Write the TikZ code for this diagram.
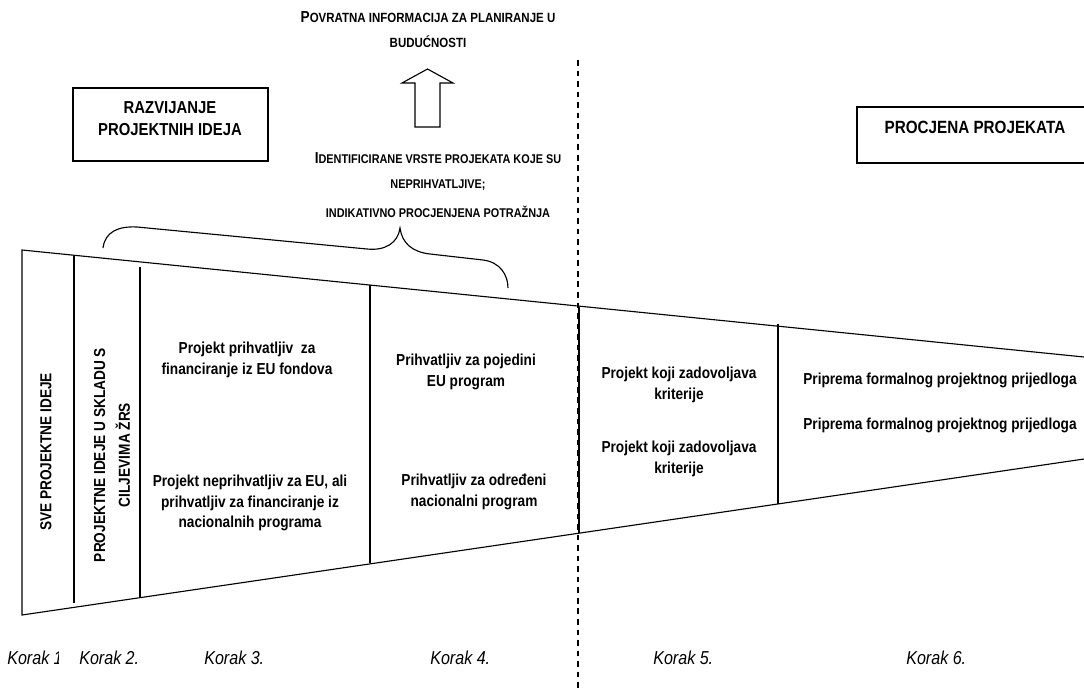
\documentclass[tikz,border=0pt]{standalone}
\usepackage{fontspec}
\setmainfont[FakeStretch=0.86]{Liberation Sans}
\newcommand{\velikoslovo}[1]{{\fontsize{11.3}{17.7}\selectfont #1}}

\begin{document}
\begin{tikzpicture}[x=0.025cm, y=-0.025cm]

\tikzset{crta/.style = {line width=0.8pt}}
\tikzset{opis/.style = {align=center, inner sep=0pt, font=\fontsize{11.3}{14.8}\selectfont\bfseries}}
\tikzset{kapit/.style = {align=center, inner sep=0pt, font=\fontsize{9.5}{17.7}\selectfont\bfseries}}
\tikzset{naslov/.style = {align=center, inner sep=0pt, font=\fontsize{12.3}{15.6}\selectfont\bfseries}}
\tikzset{korak/.style = {anchor=west, inner sep=0pt, font=\fontsize{13.3}{15}\selectfont\itshape}}
\useasboundingbox (0,0) rectangle (1084,690);
%naslovi
\draw[crta] (73,88) rectangle (268,161);
\node[naslov] (razvoj) at (170,119) {RAZVIJANJE\\PROJEKTNIH IDEJA};
\draw[crta] (857,107) rectangle (1093,163);
\node[naslov, font=\fontsize{12.6}{15.6}\selectfont\bfseries] (procjena) at (975,127) {PROCJENA PROJEKATA};
\node[kapit] (povratna) at (428,30) {\velikoslovo{P}OVRATNA INFORMACIJA ZA PLANIRANJE U\\BUDUĆNOSTI};
\node[kapit, font=\fontsize{9}{17.7}\selectfont\bfseries] (ident) at (438,185) {\velikoslovo{I}DENTIFICIRANE VRSTE PROJEKATA KOJE SU\\NEPRIHVATLJIVE;\\[3pt]INDIKATIVNO PROCJENJENA POTRAŽNJA};
%strelica
\draw[crta] (415,127) -- (415,83) -- (402,83) -- (427.5,69) -- (453,83) -- (440,83) -- (440,127) -- cycle;
%zagrada
\draw[crta] (103,248) .. controls (105,232) and (118,226) .. (137,227) -- (367,249)
  .. controls (385,251) and (398,243) .. (400,228) .. controls (402,243) and (412,252) .. (430,254)
  -- (483,260) .. controls (500,262) and (508,275) .. (508,288);
%lijevak
\coordinate (tl) at (22,250);
\coordinate (tr) at (1084,357);
\coordinate (bl) at (22,615);
\coordinate (br) at (1084,459);
\draw[crta] (tr) -- (tl) -- (bl) -- (br);
\draw[crta] (74,255) -- (74,603);
\draw[crta] (140,267) -- (140,597);
\draw[crta] (370,285) -- (370,563);
\draw[crta] (579,307) -- (579,533);
\draw[crta] (778,324) -- (778,504);
\draw[crta, dash pattern=on 4pt off 3.5pt] (578,60) -- (578,690);
%polja
\node[opis, rotate=90] (sve) at (46,452) {SVE PROJEKTNE IDEJE};
\node[opis, rotate=90, font=\fontsize{11.3}{17.7}\selectfont\bfseries] (uskladu) at (112,455) {PROJEKTNE IDEJE U SKLADU S\\CILJEVIMA ŽRS};
\node[opis] (eu) at (247,360) {Projekt prihvatljiv\ \ za\\financiranje iz EU fondova};
\node[opis] (nacionalni) at (250,503) {Projekt neprihvatljiv za EU, ali\\prihvatljiv za financiranje iz\\nacionalnih programa};
\node[opis] (pojedini) at (466,372) {Prihvatljiv za pojedini\\EU program};
\node[opis] (odredeni) at (474,492) {Prihvatljiv za određeni\\nacionalni program};
\node[opis] (kriterij1) at (679,385) {Projekt koji zadovoljava\\kriterije};
\node[opis] (kriterij2) at (679,459) {Projekt koji zadovoljava\\kriterije};
\node[opis] (priprema1) at (940,380) {Priprema formalnog projektnog prijedloga};
\node[opis] (priprema2) at (940,425) {Priprema formalnog projektnog prijedloga};
%koraci
\begin{scope}
\clip (0,630) rectangle (58,690);
\node[korak] (k1) at (7,658) {Korak 1.};
\end{scope}
\node[korak] (k2) at (79,658) {Korak 2.};
\node[korak] (k3) at (204,658) {Korak 3.};
\node[korak] (k4) at (430,658) {Korak 4.};
\node[korak] (k5) at (653,658) {Korak 5.};
\node[korak] (k6) at (906,658) {Korak 6.};

\end{tikzpicture}
\end{document}
